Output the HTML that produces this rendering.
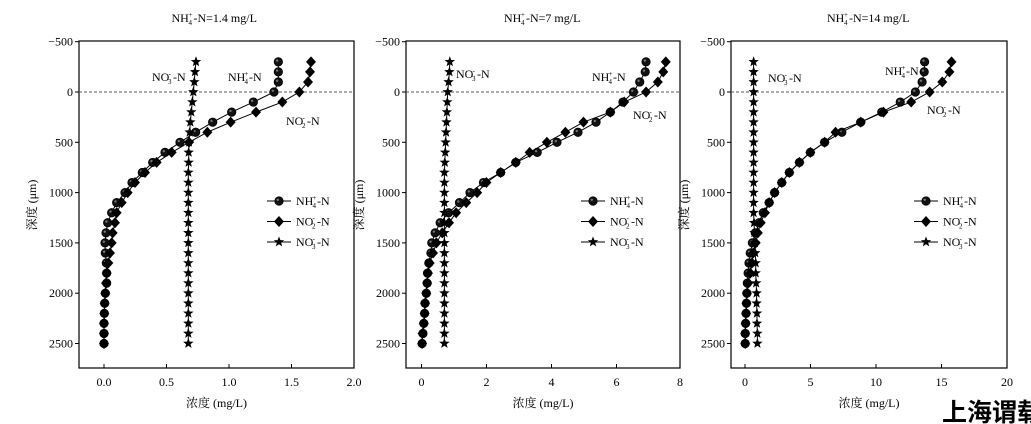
<!DOCTYPE html>
<html><head><meta charset="utf-8"><style>
html,body{margin:0;padding:0;background:#fff;}
svg{display:block;font-family:"Liberation Serif","Noto Serif CJK SC",serif;}
</style></head><body>
<svg id="s" width="1031" height="424" xmlns="http://www.w3.org/2000/svg"></svg>
<script>
const S=document.getElementById('s');let h='';
const Y=d=>92+d*0.1006;
const depths=[];for(let d=-300;d<=2500;d+=100)depths.push(d);
function star(x,y,r){let p=[];for(let i=0;i<10;i++){const a=-Math.PI/2+i*Math.PI/5,rr=i%2?r*0.42:r;p.push((x+rr*Math.cos(a)).toFixed(1)+','+(y+rr*Math.sin(a)).toFixed(1));}return `<polygon points="${p.join(' ')}" fill="#000"/>`;}
function mk(t,x,y){if(t==0)return `<circle cx="${x}" cy="${y}" r="4.2" fill="#111" stroke="#000" stroke-width="0.8"/><circle cx="${x-1.2}" cy="${y-1.2}" r="1.2" fill="#777"/>`;
if(t==1)return `<polygon points="${x},${y-5.5} ${x+5},${y} ${x},${y+5.5} ${x-5},${y}" fill="#000"/>`;return star(x,y,5.5);}
function series(xs,t){let pts=xs.map((x,i)=>x.toFixed(1)+','+Y(depths[i]).toFixed(1));h+=`<polyline points="${pts.join(' ')}" fill="none" stroke="#000" stroke-width="1"/>`;xs.forEach((x,i)=>h+=mk(t,x,Y(depths[i])));}
function lab(x,y,k,fs){fs=fs||12;const sub=k==0?'4':(k==1?'2':'3'),sup=k==0?'+':'-',b=k==0?'NH':'NO';
 return `<text x="${x}" y="${y}" font-size="${fs}">${b}</text><text x="${x+(k==0?16.5:16)}" y="${y+3}" font-size="7">${sub}</text><text x="${x+(k==0?16.5:16.5)}" y="${y-5}" font-size="7">${sup}</text><text x="${x+(k==0?21:21)}" y="${y}" font-size="${fs}">-N</text>`;}
function panel(L,R,title,ticks,annot,leg){
 h+=`<rect x="${L}" y="41" width="${R-L}" height="327" fill="none" stroke="#000" stroke-width="1.2"/>`;
 h+=`<line x1="${L}" y1="92" x2="${R}" y2="92" stroke="#555" stroke-dasharray="3,2" stroke-width="0.9"/>`;
 [-500,0,500,1000,1500,2000,2500].forEach(v=>{const y=Y(v);h+=`<line x1="${L-4}" y1="${y}" x2="${L}" y2="${y}" stroke="#000"/><text x="${L-6}" y="${y+4}" font-size="12" text-anchor="end">${v<0?'−500':v}</text>`;});
 ticks.forEach(([x,l])=>{h+=`<line x1="${x}" y1="368" x2="${x}" y2="364" stroke="#000"/><text x="${x}" y="386" font-size="12" text-anchor="middle">${l}</text>`;});
 const c=(L+R)/2;
 const tw=title.length*6+42, tx=c-tw/2;
 h+=`<text x="${tx}" y="22" font-size="12">NH</text><text x="${tx+17}" y="25" font-size="7">4</text><text x="${tx+17}" y="17" font-size="7">+</text><text x="${tx+22}" y="22" font-size="12">-N=${title}</text>`;
 h+=`<text x="${c}" y="407" font-size="12" text-anchor="middle">浓度 (mg/L)</text>`;
 h+=`<text transform="translate(${L-43},205) rotate(-90)" font-size="12" text-anchor="middle">深度 (μm)</text>`;
 h+=lab(annot[0][0],annot[0][1],2)+lab(annot[1][0],annot[1][1],0)+lab(annot[2][0],annot[2][1],1);
 [0,1,2].forEach(k=>{const y=201+k*20.5;h+=`<line x1="${leg}" y1="${y}" x2="${leg+24}" y2="${y}" stroke="#000"/>`+mk(k,leg+12,y)+lab(leg+29,y+4,k);});
}
const c23=z=>370+z/2.38, c1=z=>z/3;
panel(79,354,'1.4 mg/L',[[104,'0.0'],[166.5,'0.5'],[229,'1.0'],[291.5,'1.5'],[354,'2.0']],[[152,81],[228,81],[286,125]],267);
series([835,835,835,822,760,695,638,587,540,495,458,427,396,375,350,335,323,318,315,316,319,320,320,316,314,313,312,312,312].map(c1),0);
series([933,930,924,898,847,768,692,622,567,515,470,435,405,383,365,350,345,338,335,330,325,320,318,316,314,313,312,312,312].map(c1),1);
series([588,585,583,580,577,574,571,569,567,566,566,565,565,565,565,565,565,565,565,565,565,565,565,565,565,565,565,565,565].map(c1),2);
panel(406,680,'7 mg/L',[[421.5,'0'],[486.5,'2'],[551.5,'4'],[616.5,'6'],[680,'8']],[[456,78],[592,81],[633,119]],581);
series([657,655,642,627,602,572,538,495,445,398,347,311,270,238,213,187,167,155,147,145,140,137,136,134,131,130,128,126,124].map(c23),0);
series([704,698,685,657,605,572,508,465,421,380,347,311,277,255,229,205,188,172,158,150,142,138,136,134,131,130,128,125,124].map(c23),1);
series([190,189,187,185,184,183,182,181,180,179,178,177,177,177,177,177,177,177,177,177,177,177,177,177,177,177,177,177,177].map(c23),2);
panel(731,1007,'14 mg/L',[[745,'0'],[810.5,'5'],[876,'10'],[941.5,'15'],[1007,'20']],[[768,82],[885,75],[927,114]],914);
series([1320,1319,1314,1298,1262,1218,1168,1123,1082,1048,1022,998,980,963,950,936,926,917,910,905,902,900,898,897,896,895,894,893,893].map(c23),0);
series([1384,1379,1362,1332,1288,1222,1168,1108,1082,1048,1022,998,980,963,950,940,930,923,918,912,909,905,900,897,896,895,894,893,893].map(c23),1);
series([913,913,913,913,913,913,913,913,913,913,913,913,913,913,913,913,914,915,916,917,918,918,919,920,920,921,921,922,922].map(c23),2);
h+=`<text x="942" y="421" font-size="25" font-weight="bold" font-family="'Noto Sans CJK SC',sans-serif">上海谓载</text>`;
S.innerHTML=h;
</script>
</body></html>
